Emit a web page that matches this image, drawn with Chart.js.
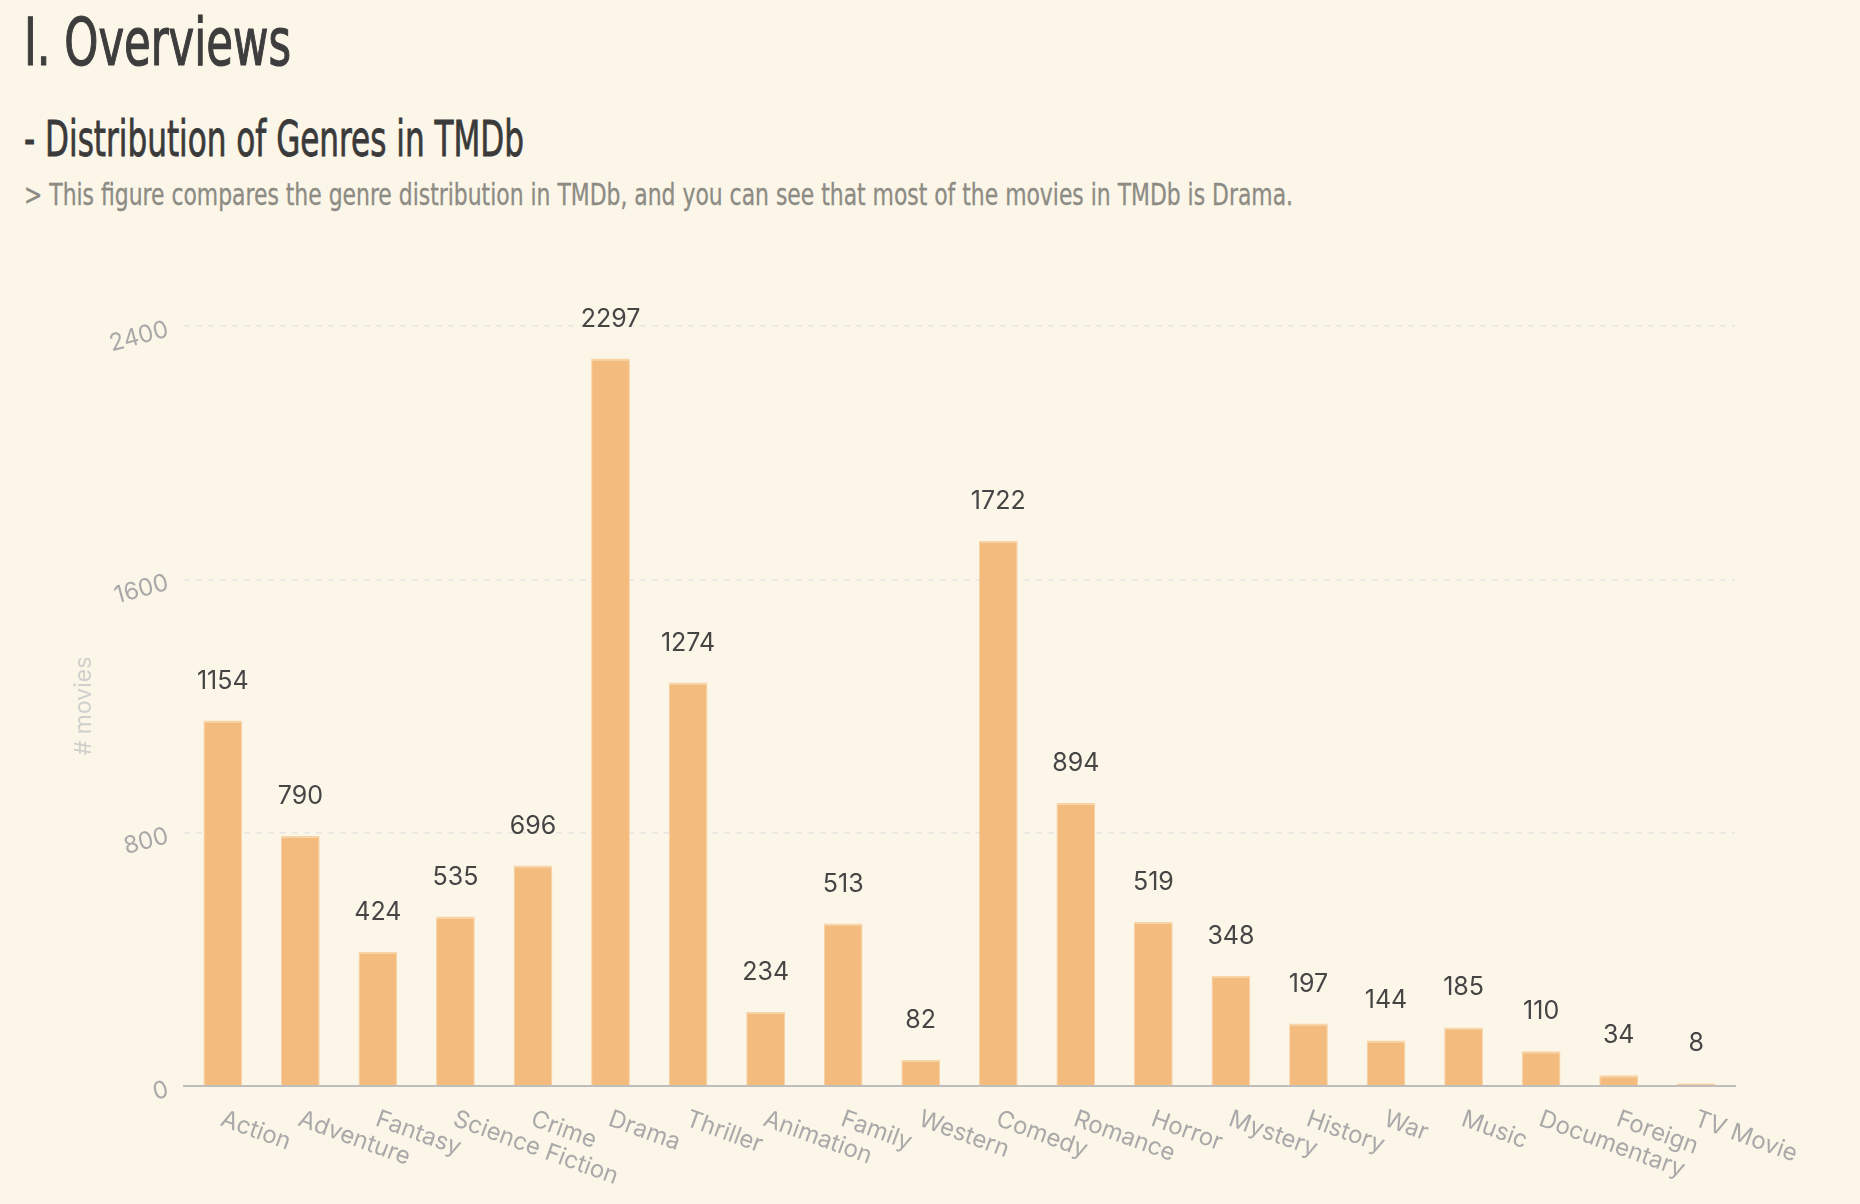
<!DOCTYPE html>
<html>
<head>
<meta charset="utf-8">
<script src="https://cdn.jsdelivr.net/npm/chart.js@4.4.1/dist/chart.umd.min.js"></script>
<style>
  html, body { margin: 0; padding: 0; background: #fcf6e9; width: 1860px; height: 1204px; overflow: hidden; }
  .h {
    position: absolute; left: 24px; margin: 0; white-space: nowrap; line-height: 1;
    font-family: "Ubuntu Condensed", "DejaVu Sans Condensed", "Liberation Sans Narrow", "Open Sans", sans-serif;
    font-stretch: condensed; transform-origin: 0 0;
  }
  #title { top: 10px; font-size: 66px; font-weight: 400; color: #3d3d3d; -webkit-text-stroke: 1.2px #3d3d3d; }
  #heading { top: 114px; font-size: 50px; font-weight: 400; color: #3a3a3a; -webkit-text-stroke: 0.8px #3a3a3a; }
  #note { top: 180px; font-size: 30px; font-weight: 400; color: #8c8b84; -webkit-text-stroke: 0.3px #8c8b84; }
  #wrap { position: absolute; left: 0; top: 0; width: 1860px; height: 1204px; }
</style>
</head>
<body>
<h1 class="h" id="title">I. Overviews</h1>
<h2 class="h" id="heading">- Distribution of Genres in TMDb</h2>
<p class="h" id="note">&gt; This figure compares the genre distribution in TMDb, and you can see that most of the movies in TMDb is Drama.</p>
<div id="wrap"><canvas id="genreChart" width="1860" height="1204"></canvas></div>
<script>
const genres = ['Action', 'Adventure', 'Fantasy', 'Science Fiction', 'Crime', 'Drama', 'Thriller', 'Animation', 'Family', 'Western',
                'Comedy', 'Romance', 'Horror', 'Mystery', 'History', 'War', 'Music', 'Documentary', 'Foreign', 'TV Movie'];
const movieCounts = [1154, 790, 424, 535, 696, 2297, 1274, 234, 513, 82, 1722, 894, 519, 348, 197, 144, 185, 110, 34, 8];
const yTicks = [0, 800, 1600, 2400];
const yTitle = '# movies';

// squeeze the headings to the width they have in the original (condensed face)
function fitWidth(id, w) {
    const el = document.getElementById(id);
    const r = el.getBoundingClientRect().width;
    el.style.transform = 'scaleX(' + (w / r) + ')';
}
fitWidth('title', 267);
fitWidth('heading', 500);
fitWidth('note', 1269);

const deg = Math.PI / 180;

const labelsPlugin = {
    id: 'customLabels',
    afterDatasetsDraw(chart) {
        const { ctx, scales: { x, y } } = chart;
        ctx.save();

        // values above the bars
        ctx.font = '25px Inter';
        ctx.fillStyle = '#454545';
        ctx.textAlign = 'center';
        ctx.textBaseline = 'alphabetic';
        chart.getDatasetMeta(0).data.forEach((bar, i) => {
            ctx.fillText(String(movieCounts[i]), bar.x, bar.y - 32);
        });

        // slanted category labels
        ctx.font = '24px Inter';
        ctx.fillStyle = '#a9a9a9';
        genres.forEach((g, i) => {
            ctx.save();
            ctx.translate(x.getPixelForValue(i) + 3, y.bottom + 21);
            ctx.rotate(20 * deg);
            ctx.textAlign = 'left';
            ctx.textBaseline = 'top';
            ctx.fillText(g, 0, 0);
            ctx.restore();
        });

        // slanted value ticks
        y.ticks.forEach(t => {
            ctx.save();
            ctx.translate(x.left - 16, y.getPixelForValue(t.value) + 3);
            ctx.rotate(-15 * deg);
            ctx.textAlign = 'right';
            ctx.textBaseline = 'middle';
            ctx.fillText(String(t.value), 0, 0);
            ctx.restore();
        });

        // axis title
        ctx.save();
        ctx.font = '23px Inter';
        ctx.fillStyle = '#cfcfcc';
        ctx.translate(84, (y.top + y.bottom) / 2);
        ctx.rotate(-90 * deg);
        ctx.textAlign = 'center';
        ctx.textBaseline = 'middle';
        ctx.fillText(yTitle, 0, 0);
        ctx.restore();

        ctx.restore();
    }
};

const ctx = document.getElementById('genreChart').getContext('2d');
new Chart(ctx, {
    type: 'bar',
    data: {
        labels: genres,
        datasets: [{
            data: movieCounts,
            backgroundColor: '#f4bb7e',
            borderColor: '#f8d3a6',
            borderWidth: { top: 2, left: 1, right: 1, bottom: 0 },
            barPercentage: 0.5,
            categoryPercentage: 1
        }]
    },
    options: {
        responsive: false,
        animation: false,
        layout: { padding: { left: 184, right: 125, top: 326, bottom: 118 } },
        plugins: {
            legend: { display: false },
            tooltip: { enabled: false }
        },
        scales: {
            x: {
                grid: { display: false, drawTicks: false },
                border: { color: '#bdbdbd', width: 2 },
                ticks: { display: false }
            },
            y: {
                min: 0,
                max: 2400,
                afterBuildTicks: s => { s.ticks = yTicks.map(v => ({ value: v })); },
                grid: { color: '#e6e6e2', lineWidth: 1.5, drawTicks: false },
                border: { display: false, dash: [6, 6] },
                ticks: { display: false }
            }
        }
    },
    plugins: [labelsPlugin]
});
</script>
</body>
</html>
